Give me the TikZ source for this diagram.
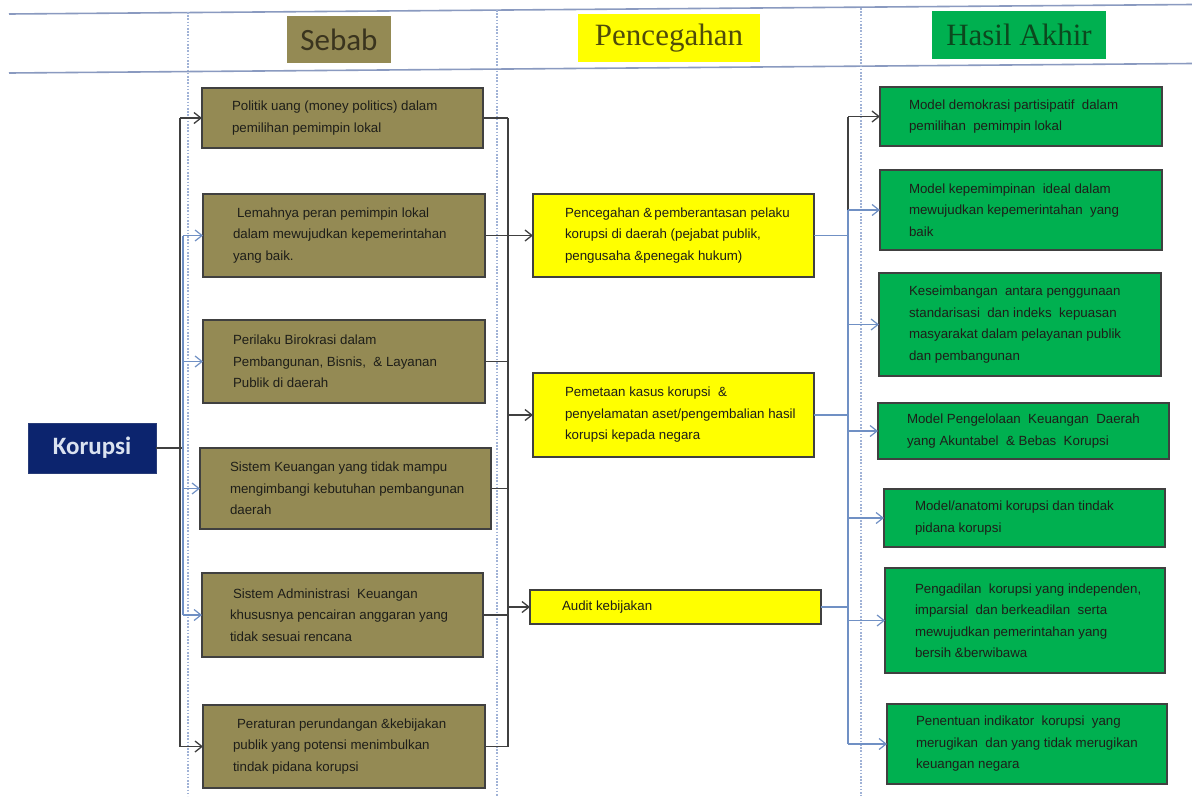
\documentclass[tikz,border=0pt]{standalone}
\usepackage{fontspec}
\setmainfont{Liberation Sans}
\newfontfamily\carlitofont{Carlito}
\newfontfamily\lserif{Liberation Serif}
\usetikzlibrary{arrows.meta}
\definecolor{cOlive}{RGB}{148,138,84}
\definecolor{cYellow}{RGB}{255,255,0}
\definecolor{cGreen}{RGB}{0,176,80}
\definecolor{cNavy}{RGB}{12,36,110}
\definecolor{cBorder}{RGB}{64,64,64}
\definecolor{cDark}{RGB}{64,64,64}
\definecolor{cBlue}{RGB}{112,144,196}
\definecolor{cHdr}{RGB}{138,154,192}
\definecolor{cDot}{RGB}{160,178,214}
\definecolor{cTxt}{RGB}{30,30,25}
\tikzset{
  every node/.style={inner sep=0pt, outer sep=0pt},
  cbox/.style={draw=cBorder, line width=1.3pt, rectangle},
  sbox/.style={cbox, fill=cOlive},
  pbox/.style={cbox, fill=cYellow},
  gbox/.style={cbox, fill=cGreen},
  txt/.style={anchor=west, align=left, text=cTxt, font={\fontsize{13.3}{21.5}\selectfont}},
  dk/.style={draw=cDark, line width=1.3pt},
  bl/.style={draw=cBlue, line width=1.2pt},
  tip/.style={-{Straight Barb[length=7pt,width=11pt]}},
  hdr/.style={draw=cHdr, line width=1.6pt},
  dotline/.style={draw=cDot, line width=1.5pt, dash pattern=on 1.6pt off 1.6pt},
}
\begin{document}
\begin{tikzpicture}[x=1pt, y=-1pt]
\useasboundingbox (0,0) rectangle (1192,796);
\fill[white] (0,0) rectangle (1192,796);

% header lines and column separators
\draw[hdr] (9,14) -- (1192,4.5);
\draw[hdr] (9,73) -- (1192,63.5);
\draw[dotline] (188,12) -- (188,796);
\draw[dotline] (497,10) -- (497,796);
\draw[dotline] (861,8) -- (861,796);

% header boxes
\node[fill=cOlive, minimum width=104pt, minimum height=47pt, text={rgb,255:red,58;green,52;blue,30}, font={\carlitofont\fontsize{31}{31}\selectfont}] (hs) at (339,39.5) {Sebab};
\node[fill=cYellow, minimum width=182pt, minimum height=48pt, text={rgb,255:red,80;green,76;blue,10}, font={\lserif\fontsize{31}{31}\selectfont}] (hp) at (669,38) {Pencegahan};
\node[fill=cGreen, minimum width=174pt, minimum height=48pt, text={rgb,255:red,12;green,72;blue,30}, font={\lserif\fontsize{31}{31}\selectfont}] (hh) at (1019,35) {Hasil Akhir};

% Korupsi
\node[fill=cNavy, draw={rgb,255:red,40;green,60;blue,120}, line width=0.8pt, minimum width=128pt, minimum height=50pt, text={rgb,255:red,218;green,226;blue,240}, font={\carlitofont\bfseries\fontsize{25}{25}\selectfont}] (kor) at (92,448) {Korupsi};

% Sebab boxes
\node[sbox, minimum width=281pt, minimum height=60pt] (s1) at (342.5,118) {};
\node[sbox, minimum width=282pt, minimum height=83pt] (s2) at (344,235.5) {};
\node[sbox, minimum width=282pt, minimum height=83pt] (s3) at (344,361.5) {};
\node[sbox, minimum width=291pt, minimum height=81pt] (s4) at (345.5,488.5) {};
\node[sbox, minimum width=281pt, minimum height=84pt] (s5) at (342.5,615) {};
\node[sbox, minimum width=282pt, minimum height=83pt] (s6) at (344,746.5) {};

\node[txt] (s1t) at ([xshift=30pt]s1.west) {Politik uang (money politics) dalam\\pemilihan pemimpin lokal};
\node[txt] (s2t) at ([xshift=30pt]s2.west) {\hspace*{4pt}Lemahnya peran pemimpin lokal\\dalam mewujudkan kepemerintahan\\yang baik.};
\node[txt] (s3t) at ([xshift=30pt]s3.west) {Perilaku Birokrasi dalam\\Pembangunan, Bisnis, \ \& Layanan\\Publik di daerah};
\node[txt] (s4t) at ([xshift=30pt]s4.west) {Sistem Keuangan yang tidak mampu\\mengimbangi kebutuhan pembangunan\\daerah};
\node[txt] (s5t) at ([xshift=28pt]s5.west) {\hspace*{3pt}Sistem Administrasi \ Keuangan\\khususnya pencairan anggaran yang\\tidak sesuai rencana};
\node[txt] (s6t) at ([xshift=30pt]s6.west) {\hspace*{4pt}Peraturan perundangan \&kebijakan\\publik yang potensi menimbulkan\\tindak pidana korupsi};

% Pencegahan boxes
\node[pbox, minimum width=281pt, minimum height=83pt] (p1) at (673.5,235.5) {};
\node[pbox, minimum width=281pt, minimum height=84pt] (p2) at (673.5,415) {};
\node[pbox, minimum width=291pt, minimum height=34pt] (p3) at (675.5,607) {};

\node[txt] (p1t) at ([xshift=32pt]p1.west) {Pencegahan \&\,pemberantasan pelaku\\korupsi di daerah (pejabat publik,\\pengusaha \&penegak hukum)};
\node[txt] (p2t) at ([xshift=32pt]p2.west) {Pemetaan kasus korupsi \ \&\\penyelamatan aset/pengembalian hasil\\korupsi kepada negara};
\node[txt] (p3t) at ([xshift=32pt]p3.west) {Audit kebijakan};

% Hasil Akhir boxes
\node[gbox, minimum width=282pt, minimum height=59pt] (g1) at (1021,116.5) {};
\node[gbox, minimum width=282pt, minimum height=80pt] (g2) at (1021,210) {};
\node[gbox, minimum width=282pt, minimum height=103pt] (g3) at (1020,324.5) {};
\node[gbox, minimum width=291pt, minimum height=56pt] (g4) at (1023.5,431) {};
\node[gbox, minimum width=281pt, minimum height=58pt] (g5) at (1024.5,518) {};
\node[gbox, minimum width=280pt, minimum height=105pt] (g6) at (1025,620.5) {};
\node[gbox, minimum width=280pt, minimum height=80pt] (g7) at (1027,744) {};

\node[txt] (g1t) at ([xshift=29pt]g1.west) {Model demokrasi partisipatif \ dalam\\pemilihan \ pemimpin lokal};
\node[txt] (g2t) at ([xshift=29pt]g2.west) {Model kepemimpinan \ ideal dalam\\mewujudkan kepemerintahan \ yang\\baik};
\node[txt] (g3t) at ([xshift=30pt]g3.west) {Keseimbangan \ antara penggunaan\\standarisasi \ dan indeks \ kepuasan\\masyarakat dalam pelayanan publik\\dan pembangunan};
\node[txt] (g4t) at ([xshift=29pt]g4.west) {Model Pengelolaan \ Keuangan \ Daerah\\yang Akuntabel \ \& Bebas \ Korupsi};
\node[txt] (g5t) at ([xshift=31pt]g5.west) {Model/anatomi korupsi dan tindak\\pidana korupsi};
\node[txt] (g6t) at ([xshift=30pt]g6.west) {Pengadilan \ korupsi yang independen,\\imparsial \ dan berkeadilan \ serta\\mewujudkan pemerintahan yang\\bersih \&berwibawa};
\node[txt] (g7t) at ([xshift=29pt]g7.west) {Penentuan indikator \ korupsi \ yang\\merugikan \ dan yang tidak merugikan\\keuangan negara};

% Korupsi -> Sebab
\coordinate (kd) at (180,448);
\coordinate (kb) at (183,448);
\draw[dk] (kor.east) -- (kb);
\draw[dk] (kd |- s1.west) -- (kd |- s6.west);
\draw[bl] (kb |- s2.west) -- (kb |- s5.west);
\draw[dk, tip] (kd |- s1.west) -- (s1.west);
\draw[dk, tip] (kd |- s6.west) -- (s6.west);
\draw[bl, tip] (kb |- s2.west) -- (s2.west);
\draw[bl, tip] (kb |- s3.west) -- (s3.west);
\draw[bl, tip] (kb |- s4.west) -- (s4.west);
\draw[bl, tip] (kb |- s5.west) -- (s5.west);

% Sebab -> Pencegahan
\coordinate (jr) at (508,0);
\foreach \s in {s1,s3,s4,s5,s6} { \draw[dk] (\s.east) -- (\s.east -| jr); }
\draw[dk] (s1.east -| jr) -- (s6.east -| jr);
\draw[dk, tip] (s2.east) -- (p1.west);
\draw[dk, tip] (p2.west -| jr) -- (p2.west);
\draw[dk, tip] (p3.west -| jr) -- (p3.west);

% Pencegahan -> Hasil Akhir
\coordinate (jg) at (848,0);
\foreach \p in {p1,p2,p3} { \draw[bl] (\p.east) -- (\p.east -| jg); }
\draw[dk] (g1.west -| jg) -- (g2.west -| jg);
\draw[bl] (g2.west -| jg) -- (g7.west -| jg);
\draw[dk, tip] (g1.west -| jg) -- (g1.west);
\foreach \g in {g2,g3,g4,g5,g6,g7} { \draw[bl, tip] (\g.west -| jg) -- (\g.west); }
\end{tikzpicture}
\end{document}
